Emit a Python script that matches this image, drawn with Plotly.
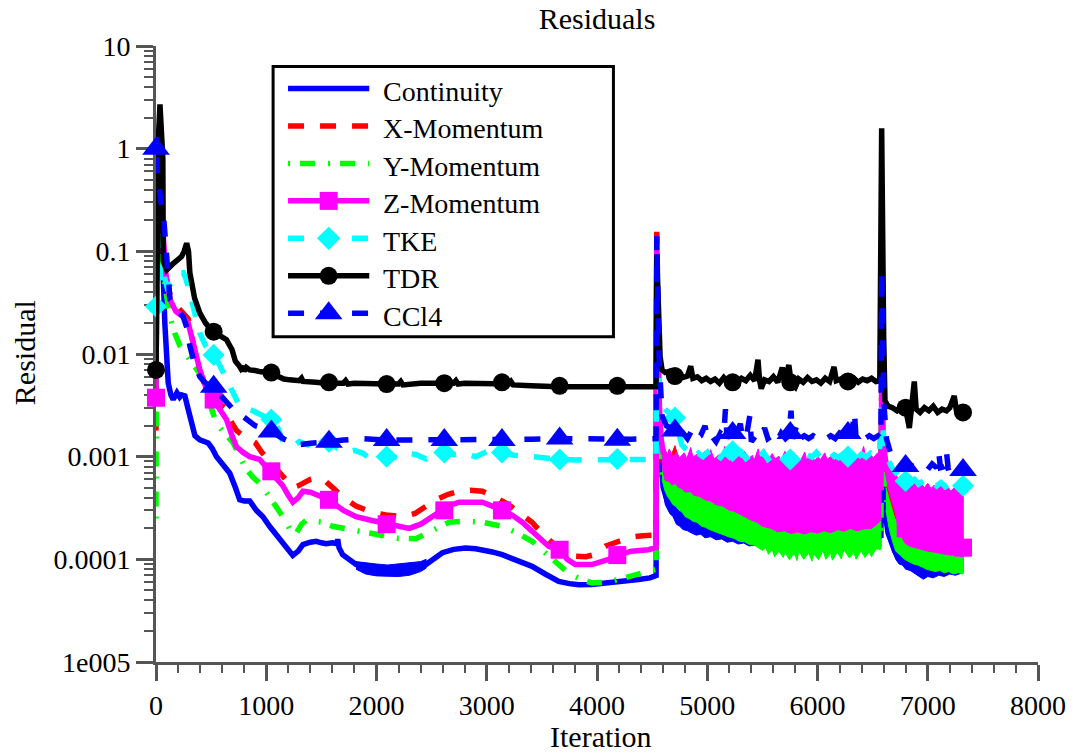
import plotly.graph_objects as go

FONT = "Liberation Serif"
AXIS_GREY = "#555555"

BLUE = "#0000FF"
RED = "#FF0000"
GREEN = "#00FF00"
MAGENTA = "#FF00FF"
CYAN = "#00FFFF"
BLACK = "#000000"

# iterations at which symbols are plotted
MARK_ITERS = [0, 523, 1046, 1569, 2092, 2615, 3138, 3661, 4184, 4707, 5230, 5753, 6276, 6799, 7320]

Y_TICK_VALS = [1e-5, 1e-4, 1e-3, 1e-2, 1e-1, 1, 10]
Y_TICK_TEXT = ["1e005", "0.0001", "0.001", "0.01", "0.1", "1", "10"]
X_TICK_VALS = [0, 1000, 2000, 3000, 4000, 5000, 6000, 7000, 8000]

# ---------------- Continuity ----------------
continuity = [
    (0, 0.4), (10, 0.9), (25, 0.5), (45, 0.2), (65, 0.06), (80, 0.02), (95, 0.008),
    (111, 0.0052), (135, 0.004), (156, 0.0036), (190, 0.0042), (215, 0.0038), (232, 0.004),
    (262, 0.0039), (285, 0.0031), (307, 0.0025), (330, 0.002), (353, 0.0016), (397, 0.00146),
    (430, 0.0014), (473, 0.00136), (510, 0.0012), (549, 0.001), (610, 0.00083), (669, 0.00069),
    (720, 0.0005), (759, 0.00038), (800, 0.00037), (850, 0.00037), (910, 0.0003), (970, 0.00026),
    (1030, 0.00021), (1091, 0.000174), (1140, 0.000152), (1182, 0.000134), (1241, 0.000109),
    (1290, 0.00012), (1332, 0.000139), (1400, 0.000147), (1453, 0.00015), (1500, 0.000145),
    (1543, 0.000142), (1600, 0.000145), (1640, 0.000142), (1648, 0.000157), (1660, 0.00013),
    (1693, 0.000111), (1750, 0.0001), (1815, 0.000089), (1900, 0.000084), (1995, 0.00008),
    (2100, 0.000078), (2267, 0.0000765), (2360, 0.00008), (2448, 0.000089), (2520, 0.0001),
    (2598, 0.000116), (2700, 0.000125), (2809, 0.000129), (2900, 0.000127), (2959, 0.000124),
    (3050, 0.000118), (3140, 0.000111), (3280, 0.000098), (3411, 0.0000855), (3530, 0.000072),
    (3653, 0.000061), (3750, 0.000058), (3834, 0.0000567), (3950, 0.000057), (4105, 0.0000589),
    (4250, 0.000061), (4376, 0.0000635), (4480, 0.000066), (4536, 0.0000695),
    (4542, 0.08), (4550, 0.015), (4562, 0.003), (4580, 0.0009), (4600, 0.0005), (4640, 0.00036),
    (4700, 0.00028), (4800, 0.00022), (5000, 0.00019), (5500, 0.00016), (6000, 0.00015),
    (6500, 0.00016), (6575, 0.00017),
    (6583, 0.0025), (6592, 0.0006), (6610, 0.0003), (6640, 0.00018), (6700, 0.00012),
    (6800, 0.00009), (7000, 0.000085), (7320, 0.000085),
]
continuity_noise_1_hi = [(1815, 0.000095), (1900, 0.000092), (2000, 0.00009), (2100, 0.000088),
                         (2200, 0.00009), (2300, 0.000092), (2400, 0.000095), (2450, 0.0001)]
continuity_noise_1_lo = [(1815, 0.00008), (1900, 0.000072), (2000, 0.000069), (2100, 0.000068),
                         (2200, 0.000068), (2300, 0.00007), (2400, 0.000076), (2450, 0.000082)]
continuity_noise_2_hi = [(4600, 0.0006), (4700, 0.00045), (4800, 0.00038), (5000, 0.00032),
                         (5300, 0.00028), (5600, 0.00025), (6000, 0.00024), (6300, 0.00024),
                         (6575, 0.00026)]
continuity_noise_2_lo = [
    (4600, 0.00045), (4620, 0.00034), (4640, 0.00031), (4660, 0.00028), (4690, 0.00026),
    (4720, 0.00022), (4750, 0.00021), (4780, 0.000195), (4820, 0.00019), (4860, 0.00018),
    (4900, 0.000172), (4940, 0.000176), (4980, 0.000162), (5030, 0.000166), (5080, 0.000155),
    (5130, 0.000158), (5180, 0.000147), (5230, 0.00015), (5280, 0.000141), (5330, 0.000144),
    (5380, 0.000135), (5440, 0.000138), (5500, 0.000129), (5560, 0.000132), (5620, 0.000126),
    (5700, 0.000128), (5800, 0.000121), (5900, 0.000124), (6000, 0.000118), (6100, 0.000122),
    (6200, 0.00012), (6300, 0.000125), (6400, 0.000121), (6500, 0.000127), (6575, 0.00013),
]
continuity_noise_3_hi = [(6620, 0.0003), (6700, 0.00017), (6800, 0.00014), (7000, 0.00013),
                         (7320, 0.00012)]
continuity_noise_3_lo = [
    (6620, 0.00025), (6650, 0.00017), (6680, 0.00012), (6710, 0.0001), (6740, 0.00009),
    (6770, 0.000088), (6800, 0.00008), (6840, 0.000078), (6880, 0.000072), (6920, 0.000068),
    (6960, 0.000064), (7000, 0.000068), (7050, 0.000066), (7100, 0.00007), (7150, 0.000068),
    (7200, 0.000072), (7250, 0.00007), (7320, 0.000074),
]

# ---------------- X-Momentum ----------------
x_momentum = [
    (0, 0.0018), (8, 0.35), (20, 0.25), (40, 0.15), (66, 0.1), (100, 0.05), (127, 0.038),
    (180, 0.03), (247, 0.025), (292, 0.022), (330, 0.014), (360, 0.009), (398, 0.0066),
    (450, 0.0048), (504, 0.0038), (560, 0.0034), (639, 0.0029), (680, 0.0022), (730, 0.0018),
    (790, 0.0016), (850, 0.00145), (900, 0.00137), (960, 0.0011), (1031, 0.0009),
    (1090, 0.00075), (1151, 0.00062), (1200, 0.00055), (1241, 0.0005), (1290, 0.00052),
    (1332, 0.00055), (1400, 0.0006), (1453, 0.00062), (1500, 0.0006), (1543, 0.00057),
    (1620, 0.00048), (1700, 0.0004), (1814, 0.00033), (1950, 0.00029), (2086, 0.00027),
    (2236, 0.00026), (2350, 0.00028), (2450, 0.00033), (2538, 0.00038), (2650, 0.00043),
    (2749, 0.00046), (2850, 0.00047), (2960, 0.00046), (3080, 0.0004), (3200, 0.00034),
    (3300, 0.00028), (3411, 0.00023), (3500, 0.00018), (3562, 0.000155), (3680, 0.00012),
    (3800, 0.000107), (3900, 0.000106), (3960, 0.00011), (4075, 0.000134), (4200, 0.00015),
    (4313, 0.000165), (4420, 0.00017), (4536, 0.000172),
    (4542, 0.155), (4550, 0.02), (4562, 0.004), (4580, 0.0014), (4600, 0.0009),
    (4700, 0.0008), (5000, 0.0006), (5500, 0.0005), (6000, 0.0004), (6575, 0.0005),
    (6583, 0.006), (6595, 0.0012), (6620, 0.0006), (6700, 0.0004), (7000, 0.0003), (7320, 0.0003),
]
x_momentum_noise_1_hi = [(4600, 0.0009), (4660, 0.00095), (4707, 0.00128), (4740, 0.00095),
                         (5000, 0.00092), (5300, 0.00095), (5480, 0.00094), (5506, 0.00115),
                         (5530, 0.00094), (6000, 0.0009), (6300, 0.00092), (6575, 0.00092)]
x_momentum_noise_1_lo = [(4600, 0.0006), (5000, 0.0004), (5500, 0.00025), (6000, 0.00022),
                         (6575, 0.00024)]
x_momentum_noise_2_hi = [(6620, 0.0007), (6700, 0.0006), (7000, 0.00045), (7320, 0.00042)]
x_momentum_noise_2_lo = [(6620, 0.0005), (6700, 0.00025), (6800, 0.00016), (7320, 0.00014)]

# ---------------- Y-Momentum ----------------
y_momentum = [
    (0, 0.00025), (6, 0.2), (20, 0.12), (45, 0.08), (66, 0.06), (100, 0.035), (127, 0.023),
    (170, 0.016), (217, 0.012), (300, 0.009), (398, 0.0066), (459, 0.0052), (500, 0.003),
    (549, 0.0021), (620, 0.0017), (699, 0.00137), (760, 0.001), (820, 0.00075), (880, 0.00063),
    (940, 0.00055), (1000, 0.00045), (1080, 0.00034), (1151, 0.00026), (1210, 0.0002),
    (1272, 0.000179), (1320, 0.00022), (1362, 0.00024), (1440, 0.000235), (1513, 0.00023),
    (1600, 0.00021), (1754, 0.000195), (1900, 0.00018), (2055, 0.000167), (2200, 0.00016),
    (2357, 0.000159), (2500, 0.00019), (2659, 0.00023), (2800, 0.000235), (2960, 0.00023),
    (3140, 0.00021), (3280, 0.00018), (3411, 0.00015), (3562, 0.000107), (3650, 0.00009),
    (3744, 0.000073), (3850, 0.000064), (3954, 0.000059), (4105, 0.00006), (4313, 0.000068),
    (4495, 0.0000765), (4536, 0.00008),
    (4542, 0.05), (4550, 0.006), (4565, 0.0015), (4590, 0.0007), (4700, 0.0004),
    (5000, 0.00028), (5500, 0.0002), (6000, 0.00017), (6575, 0.0002),
    (6583, 0.004), (6595, 0.0008), (6620, 0.0004), (6700, 0.0002), (6900, 0.00013), (7320, 0.00011),
]
y_momentum_noise_1_hi = [(4590, 0.0008), (4700, 0.0007), (4800, 0.00062), (5000, 0.0005),
                         (5200, 0.0004), (5400, 0.00032), (5600, 0.00027), (5800, 0.00025),
                         (6000, 0.00025), (6300, 0.00026), (6575, 0.0003)]
y_momentum_noise_1_lo = [
    (4590, 0.0006), (4615, 0.00047), (4640, 0.00041), (4662, 0.00038), (4690, 0.00034),
    (4712, 0.00033), (4745, 0.0003), (4770, 0.00029), (4800, 0.00026), (4835, 0.00025),
    (4870, 0.000235), (4905, 0.00023), (4950, 0.00021), (4985, 0.000205), (5020, 0.000195),
    (5070, 0.000185), (5110, 0.00018), (5150, 0.000172), (5200, 0.000165), (5245, 0.00016),
    (5290, 0.00015), (5340, 0.000148), (5380, 0.00014), (5430, 0.000137), (5470, 0.000128),
    (5505, 0.000122), (5530, 0.000131), (5555, 0.000112), (5590, 0.000125), (5610, 0.000106),
    (5650, 0.00012), (5690, 0.000104), (5705, 0.000118), (5745, 0.000099), (5790, 0.000114),
    (5815, 0.000097), (5830, 0.000121), (5875, 0.0001), (5920, 0.000116), (5950, 0.000096),
    (5965, 0.000113), (6010, 0.000099), (6050, 0.000122), (6075, 0.0001), (6120, 0.000115),
    (6135, 0.000098), (6180, 0.000118), (6215, 0.000101), (6240, 0.000124), (6290, 0.000103),
    (6330, 0.000117), (6350, 0.0001), (6395, 0.000121), (6430, 0.000104), (6470, 0.000119),
    (6490, 0.000106), (6530, 0.000126), (6575, 0.000125),
]
y_momentum_noise_2_hi = [(6620, 0.0005), (6700, 0.00025), (6800, 0.0002), (7000, 0.00018),
                         (7320, 0.00017)]
y_momentum_noise_2_lo = [
    (6620, 0.0003), (6650, 0.0002), (6680, 0.00015), (6710, 0.00012), (6750, 0.00011),
    (6790, 0.0001), (6830, 0.000095), (6870, 0.00009), (6910, 0.000088), (6950, 0.000084),
    (6990, 0.00008), (7030, 0.000078), (7070, 0.000076), (7110, 0.000078), (7150, 0.000074),
    (7190, 0.000076), (7230, 0.000072), (7280, 0.000074), (7320, 0.000072),
]

# ---------------- Z-Momentum ----------------
z_momentum = [
    (0, 0.00375), (5, 0.25), (15, 0.2), (35, 0.15), (66, 0.14), (90, 0.06), (127, 0.034),
    (180, 0.026), (247, 0.023), (292, 0.02), (340, 0.012), (398, 0.007), (450, 0.0048),
    (504, 0.0036), (560, 0.0031), (639, 0.0023), (690, 0.0016), (730, 0.00125), (790, 0.0011),
    (850, 0.001), (940, 0.00094), (1000, 0.0008), (1046, 0.00072), (1100, 0.0006),
    (1151, 0.00052), (1200, 0.00042), (1241, 0.00036), (1290, 0.0004), (1332, 0.00046),
    (1400, 0.00045), (1500, 0.0004), (1569, 0.00038), (1700, 0.0003), (1814, 0.00026),
    (1950, 0.00024), (2092, 0.00022), (2200, 0.00021), (2297, 0.0002), (2400, 0.00022),
    (2538, 0.00028), (2650, 0.00033), (2749, 0.00036), (2850, 0.00036), (2960, 0.00036),
    (3050, 0.00033), (3138, 0.0003), (3230, 0.00027), (3321, 0.00023), (3450, 0.00017),
    (3562, 0.000134), (3661, 0.000124), (3730, 0.0001), (3804, 0.000089), (3954, 0.000089),
    (4105, 0.0001), (4184, 0.00011), (4313, 0.00012), (4467, 0.000124), (4536, 0.00013),
    (4542, 0.14), (4550, 0.02), (4562, 0.004), (4578, 0.0016), (4600, 0.0011),
    (4707, 0.0008), (5230, 0.0006), (5753, 0.0005), (6276, 0.0005), (6575, 0.0005),
    (6583, 0.0056), (6595, 0.0015), (6620, 0.0008), (6700, 0.0004), (6799, 0.00025),
    (7000, 0.0002), (7320, 0.00013),
]
z_momentum_noise_1_hi = [
    (4590, 0.0013), (4612, 0.00121), (4640, 0.00104), (4655, 0.00119), (4690, 0.00099),
    (4722, 0.00111), (4748, 0.00097), (4790, 0.00109), (4815, 0.00096), (4850, 0.00123),
    (4870, 0.00099), (4915, 0.00107), (4935, 0.00094), (4975, 0.00113), (5005, 0.00098),
    (5030, 0.00117), (5062, 0.00095), (5110, 0.00105), (5135, 0.00093), (5158, 0.00126),
    (5175, 0.00097), (5215, 0.00109), (5255, 0.00096), (5290, 0.00104), (5318, 0.00094),
    (5335, 0.00113), (5380, 0.00097), (5410, 0.00103), (5425, 0.00092), (5462, 0.00119),
    (5484, 0.00095), (5530, 0.00104), (5545, 0.00092), (5590, 0.00107), (5615, 0.00095),
    (5650, 0.00101), (5668, 0.00092), (5705, 0.00113), (5725, 0.00094), (5770, 0.00104),
    (5795, 0.00091), (5815, 0.001), (5850, 0.00093), (5884, 0.00111), (5900, 0.00094),
    (5945, 0.00102), (5975, 0.00092), (6005, 0.001), (6025, 0.00093), (6066, 0.00109),
    (6085, 0.00094), (6125, 0.00101), (6155, 0.00092), (6184, 0.00105), (6205, 0.00094),
    (6245, 0.001), (6275, 0.00093), (6305, 0.00107), (6320, 0.00095), (6365, 0.00102),
    (6385, 0.00094), (6418, 0.00126), (6440, 0.00096), (6485, 0.00104), (6505, 0.00097),
    (6545, 0.00109), (6575, 0.001),
]
z_momentum_noise_1_lo = [
    (4590, 0.0008), (4617, 0.00059), (4650, 0.00058), (4680, 0.00053), (4710, 0.00055),
    (4738, 0.0005), (4770, 0.00049), (4800, 0.00045), (4840, 0.00046), (4880, 0.00042),
    (4930, 0.00041), (4979, 0.00038), (5030, 0.00037), (5080, 0.00034), (5140, 0.00033),
    (5200, 0.0003), (5240, 0.000295), (5280, 0.00028), (5340, 0.00026), (5400, 0.00024),
    (5450, 0.00023), (5500, 0.00021), (5540, 0.000205), (5581, 0.0002), (5640, 0.000185),
    (5700, 0.00019), (5760, 0.000178), (5820, 0.000185), (5883, 0.000176), (5940, 0.000186),
    (6000, 0.00018), (6060, 0.00019), (6120, 0.000182), (6184, 0.000195), (6240, 0.000188),
    (6300, 0.0002), (6360, 0.00019), (6420, 0.000198), (6486, 0.0002), (6540, 0.00022),
    (6575, 0.00024),
]
z_momentum_noise_2_hi = [
    (6600, 0.003), (6615, 0.0012), (6640, 0.0009), (6670, 0.00075), (6700, 0.0007),
    (6730, 0.00062), (6760, 0.00058), (6790, 0.00054), (6820, 0.00056), (6850, 0.0005),
    (6880, 0.00055), (6910, 0.00049), (6940, 0.00054), (6970, 0.0005), (7000, 0.00055),
    (7030, 0.00049), (7060, 0.00053), (7090, 0.00048), (7120, 0.00052), (7150, 0.00047),
    (7180, 0.00051), (7210, 0.00046), (7240, 0.0005), (7270, 0.00046), (7300, 0.00048),
    (7320, 0.00045),
]
z_momentum_noise_2_lo = [
    (6600, 0.0012), (6615, 0.0007), (6640, 0.0005), (6670, 0.00038), (6700, 0.0003),
    (6730, 0.00021), (6760, 0.00017), (6790, 0.000145), (6830, 0.000135), (6870, 0.00013),
    (6910, 0.000128), (6950, 0.000124), (7000, 0.00012), (7050, 0.000118), (7100, 0.000115),
    (7150, 0.000113), (7200, 0.00011), (7250, 0.00011), (7320, 0.000106),
]
z_momentum_marks = [0.00375, 0.0036, 0.00072, 0.00038, 0.00022, 0.0003, 0.0003, 0.000124,
                    0.00011, 0.0007, 0.0005, 0.0004, 0.0004, 0.0002, 0.00013]

# ---------------- TKE ----------------
tke = [
    (0, 0.029), (5, 0.4), (15, 0.2), (30, 0.08), (50, 0.05), (66, 0.062), (100, 0.045),
    (150, 0.05), (200, 0.062), (247, 0.062), (270, 0.055), (307, 0.039), (350, 0.025),
    (398, 0.016), (450, 0.012), (504, 0.0098), (560, 0.0085), (639, 0.0056), (700, 0.004),
    (759, 0.0031), (850, 0.0029), (900, 0.0027), (970, 0.0025), (1046, 0.0023), (1091, 0.0021),
    (1151, 0.0014), (1200, 0.0013), (1241, 0.00126), (1300, 0.0014), (1380, 0.0013),
    (1450, 0.0015), (1513, 0.0014), (1569, 0.0014), (1650, 0.0012), (1720, 0.0011),
    (1800, 0.00115), (1874, 0.00108), (1950, 0.00095), (2000, 0.00105), (2092, 0.001),
    (2200, 0.00098), (2280, 0.00108), (2357, 0.00105), (2450, 0.00095), (2530, 0.0011),
    (2615, 0.00112), (2700, 0.00105), (2809, 0.00108), (2900, 0.001), (3000, 0.00112),
    (3138, 0.0011), (3250, 0.00103), (3411, 0.001), (3500, 0.00097), (3661, 0.00094),
    (3800, 0.00093), (4000, 0.00094), (4184, 0.00095), (4350, 0.00094), (4536, 0.00094),
    (4542, 0.015), (4552, 0.009), (4565, 0.005), (4590, 0.0032), (4630, 0.0028), (4670, 0.0026),
    (4707, 0.0024), (4740, 0.0017), (4770, 0.0013), (4800, 0.0012), (4840, 0.0011),
    (4880, 0.00098), (4920, 0.00108), (4960, 0.001), (5000, 0.0011), (5040, 0.00092),
    (5080, 0.00105), (5120, 0.00098), (5160, 0.0011), (5200, 0.001), (5230, 0.00113),
    (5270, 0.00098), (5310, 0.0011), (5350, 0.00096), (5390, 0.00104), (5430, 0.0011),
    (5470, 0.00098), (5510, 0.0011), (5550, 0.00094), (5590, 0.00102), (5630, 0.00098),
    (5670, 0.00108), (5710, 0.00097), (5753, 0.00094), (5790, 0.00102), (5830, 0.00108),
    (5870, 0.00096), (5910, 0.00104), (5950, 0.00099), (5990, 0.0011), (6030, 0.00097),
    (6070, 0.00105), (6110, 0.00096), (6150, 0.00104), (6190, 0.00098), (6230, 0.00106),
    (6276, 0.001), (6320, 0.00104), (6360, 0.00097), (6400, 0.00106), (6440, 0.00099),
    (6480, 0.00108), (6520, 0.001), (6560, 0.00104),
    (6583, 0.003), (6600, 0.0015), (6630, 0.001), (6670, 0.0008), (6710, 0.0007),
    (6750, 0.00062), (6799, 0.00058), (6840, 0.00056), (6880, 0.0006), (6920, 0.00054),
    (6960, 0.00058), (7000, 0.00053), (7040, 0.00057), (7080, 0.00052), (7120, 0.00056),
    (7160, 0.00051), (7200, 0.00055), (7240, 0.00051), (7280, 0.00054), (7320, 0.00052),
]
tke_marks = [0.029, 0.0098, 0.0023, 0.0014, 0.001, 0.0011, 0.0011, 0.00094, 0.00095,
             0.0024, 0.00113, 0.00094, 0.001, 0.00058, 0.00052]

# ---------------- TDR ----------------
tdr = [
    (0, 0.007), (10, 0.35), (25, 1.5), (36, 2.7), (50, 0.9), (62, 0.8), (66, 0.08),
    (97, 0.066), (150, 0.075), (200, 0.085), (232, 0.089), (255, 0.1), (278, 0.12),
    (295, 0.1), (307, 0.062), (350, 0.035), (398, 0.025), (450, 0.02), (504, 0.017),
    (560, 0.0155), (639, 0.0138), (690, 0.011), (720, 0.0085), (750, 0.0078), (770, 0.0072),
    (787, 0.0076), (800, 0.0068), (820, 0.0074), (850, 0.007), (900, 0.0069), (950, 0.0067),
    (1031, 0.0066), (1100, 0.006), (1160, 0.0057), (1212, 0.0056), (1300, 0.0055),
    (1320, 0.0058), (1335, 0.0054), (1450, 0.0053), (1543, 0.0052), (1700, 0.0052),
    (1720, 0.0055), (1740, 0.0051), (1800, 0.0052), (2086, 0.0051), (2200, 0.0051),
    (2220, 0.0054), (2240, 0.005), (2400, 0.0052), (2595, 0.0052), (2700, 0.0052),
    (2720, 0.0055), (2740, 0.0051), (2800, 0.0052), (3120, 0.0052), (3200, 0.0051),
    (3220, 0.0054), (3240, 0.005), (3400, 0.0049), (3650, 0.0048), (4170, 0.0048),
    (4536, 0.0048),
    (4542, 0.093), (4548, 0.057), (4560, 0.014), (4572, 0.0095), (4590, 0.007), (4620, 0.0066),
    (4660, 0.0068), (4700, 0.0062), (4740, 0.0064), (4780, 0.0059), (4820, 0.0061),
    (4850, 0.0076), (4870, 0.0058), (4910, 0.006), (4950, 0.0055), (4990, 0.0058),
    (5030, 0.0054), (5070, 0.0057), (5110, 0.0052), (5150, 0.0059), (5190, 0.0053),
    (5230, 0.0056), (5270, 0.0054), (5310, 0.0058), (5350, 0.0055), (5390, 0.0062),
    (5430, 0.0055), (5460, 0.0088), (5475, 0.0055), (5490, 0.0046), (5520, 0.0056),
    (5560, 0.0054), (5600, 0.006), (5640, 0.0053), (5680, 0.0074), (5700, 0.0054),
    (5740, 0.0078), (5760, 0.0054), (5800, 0.0048), (5830, 0.0057), (5870, 0.0053),
    (5910, 0.0059), (5950, 0.0054), (5990, 0.0056), (6030, 0.0052), (6070, 0.0058),
    (6110, 0.0054), (6150, 0.0075), (6170, 0.0055), (6210, 0.0057), (6250, 0.0053),
    (6290, 0.0056), (6330, 0.0058), (6370, 0.0053), (6410, 0.0057), (6450, 0.0055),
    (6490, 0.0058), (6530, 0.0054), (6565, 0.0055),
    (6582, 1.58), (6590, 0.061), (6600, 0.015), (6612, 0.0035), (6640, 0.0031), (6680, 0.003),
    (6720, 0.0028), (6760, 0.0031), (6800, 0.0029), (6833, 0.0019), (6850, 0.003),
    (6878, 0.0054), (6895, 0.0029), (6930, 0.0027), (6970, 0.003), (7010, 0.0028),
    (7050, 0.0031), (7090, 0.0027), (7130, 0.0029), (7170, 0.0028), (7200, 0.003),
    (7240, 0.0039), (7260, 0.0028), (7290, 0.0029), (7320, 0.0027),
]
tdr_marks = [0.007, 0.0165, 0.0066, 0.0053, 0.0051, 0.0052, 0.0053, 0.0049, 0.0049,
             0.0061, 0.0053, 0.0053, 0.0054, 0.003, 0.0027]

# ---------------- CCl4 ----------------
ccl4 = [
    (0, 1.0), (5, 1.3), (12, 0.6), (25, 0.4), (45, 0.3), (66, 0.24), (90, 0.1), (127, 0.034),
    (180, 0.028), (247, 0.023), (280, 0.018), (307, 0.012), (350, 0.008), (398, 0.006),
    (450, 0.0052), (523, 0.0048), (600, 0.0038), (699, 0.0029), (760, 0.0026), (820, 0.0023),
    (900, 0.002), (970, 0.0019), (1046, 0.00176), (1150, 0.0015), (1272, 0.0013),
    (1400, 0.00135), (1513, 0.00136), (1569, 0.0014), (1700, 0.00145), (1874, 0.0015),
    (2092, 0.00145), (2300, 0.00145), (2615, 0.00145), (2900, 0.00145), (3138, 0.00145),
    (3400, 0.00148), (3661, 0.0015), (3900, 0.00148), (4105, 0.00146), (4300, 0.00148),
    (4536, 0.0015),
    (4542, 0.14), (4550, 0.05), (4558, 0.012), (4570, 0.005), (4590, 0.0025), (4630, 0.002),
    (4670, 0.0019), (4707, 0.0018), (4740, 0.0016), (4780, 0.0017), (4820, 0.0015),
    (4860, 0.0018), (4900, 0.0015), (4940, 0.0016), (4980, 0.002), (5000, 0.0015),
    (5040, 0.0016), (5080, 0.0014), (5120, 0.0017), (5150, 0.0016), (5165, 0.0029),
    (5180, 0.0015), (5200, 0.0017), (5230, 0.0018), (5260, 0.0016), (5300, 0.0021),
    (5320, 0.0015), (5360, 0.0017), (5386, 0.0025), (5400, 0.0014), (5440, 0.0016),
    (5480, 0.0015), (5520, 0.0019), (5550, 0.0015), (5590, 0.0016), (5630, 0.0014),
    (5670, 0.0017), (5710, 0.0015), (5740, 0.0016), (5760, 0.0028), (5775, 0.0015),
    (5810, 0.002), (5840, 0.0015), (5880, 0.0016), (5920, 0.0015), (5960, 0.0016),
    (6000, 0.0015), (6040, 0.0016), (6080, 0.0015), (6120, 0.0016), (6160, 0.0015),
    (6200, 0.0017), (6240, 0.0016), (6276, 0.0018), (6310, 0.0016), (6335, 0.0027),
    (6350, 0.0015), (6390, 0.0016), (6430, 0.0015), (6470, 0.0016), (6510, 0.0015),
    (6550, 0.0016), (6575, 0.0015),
    (6583, 0.065), (6592, 0.012), (6605, 0.003), (6625, 0.0015), (6660, 0.0011),
    (6700, 0.00095), (6740, 0.0009), (6770, 0.0008), (6799, 0.0008), (6830, 0.00085),
    (6870, 0.0008), (6910, 0.00082), (6950, 0.0008), (7000, 0.00075), (7040, 0.00085),
    (7080, 0.00078), (7100, 0.0011), (7115, 0.00078), (7150, 0.0008), (7170, 0.0011),
    (7185, 0.00078), (7220, 0.0008), (7260, 0.00076), (7320, 0.00075),
]
ccl4_marks = [1.0, 0.0048, 0.00176, 0.0014, 0.00145, 0.00145, 0.00145, 0.0015, 0.00146,
              0.0018, 0.0017, 0.0017, 0.0017, 0.00081, 0.00074]

DASH_X = "16px,16px"
DASH_Y = "2px,10px,15px,13px"
DASH_TKE = "16px,16px"
DASH_CCL4 = "16px,16px"

# legend entries: name, colour, dash, symbol, symbol size
LEGEND_ENTRIES = [
    ("Continuity", BLUE, "solid", None, 0),
    ("X-Momentum", RED, DASH_X, None, 0),
    ("Y-Momentum", GREEN, DASH_Y, None, 0),
    ("Z-Momentum", MAGENTA, "solid", "square", 18),
    ("TKE", CYAN, DASH_TKE, "diamond", 18),
    ("TDR", BLACK, "solid", "circle", 18),
    ("CCl4", BLUE, DASH_CCL4, "triangle-up", 24),
]
# legend frame geometry, in pixels of the page (origin top-left)
LEGEND_BOX = dict(x0=273.5, x1=615, y0=66.5, y1=337)
LEGEND_FIRST_ROW = 88.5
LEGEND_ROW_STEP = 37.5
LEGEND_SAMPLE_X = (288.5, 370)
LEGEND_TEXT_X = 381.5


def unzip(pairs):
    return [p[0] for p in pairs], [p[1] for p in pairs]


def line_trace(pairs, color, dash="solid", width=5.5):
    xs, ys = unzip(pairs)
    return go.Scatter(x=xs, y=ys, mode="lines", showlegend=False, hoverinfo="skip",
                      line=dict(color=color, width=width, dash=dash))


def noise_trace(upper, lower, color):
    ux, uy = unzip(upper)
    lx, ly = unzip(lower)
    return go.Scatter(x=ux + lx[::-1], y=uy + ly[::-1], mode="lines", fill="toself",
                      fillcolor=color, line=dict(color=color, width=1),
                      showlegend=False, hoverinfo="skip")


def symbol_trace(values, color, symbol, size):
    return go.Scatter(x=MARK_ITERS, y=values, mode="markers", showlegend=False,
                      hoverinfo="skip", cliponaxis=False,
                      marker=dict(color=color, symbol=symbol, size=size, line=dict(width=0)))


fig = go.Figure()

# Continuity
fig.add_trace(noise_trace(continuity_noise_1_hi, continuity_noise_1_lo, BLUE))
fig.add_trace(noise_trace(continuity_noise_2_hi, continuity_noise_2_lo, BLUE))
fig.add_trace(noise_trace(continuity_noise_3_hi, continuity_noise_3_lo, BLUE))
fig.add_trace(line_trace(continuity, BLUE))

# X-Momentum
fig.add_trace(noise_trace(x_momentum_noise_1_hi, x_momentum_noise_1_lo, RED))
fig.add_trace(noise_trace(x_momentum_noise_2_hi, x_momentum_noise_2_lo, RED))
fig.add_trace(line_trace(x_momentum, RED, DASH_X))

# Y-Momentum
fig.add_trace(noise_trace(y_momentum_noise_1_hi, y_momentum_noise_1_lo, GREEN))
fig.add_trace(noise_trace(y_momentum_noise_2_hi, y_momentum_noise_2_lo, GREEN))
fig.add_trace(line_trace(y_momentum, GREEN, DASH_Y))

# Z-Momentum
fig.add_trace(noise_trace(z_momentum_noise_1_hi, z_momentum_noise_1_lo, MAGENTA))
fig.add_trace(noise_trace(z_momentum_noise_2_hi, z_momentum_noise_2_lo, MAGENTA))
fig.add_trace(line_trace(z_momentum, MAGENTA))
fig.add_trace(symbol_trace(z_momentum_marks, MAGENTA, "square", 18))

# TKE
fig.add_trace(line_trace(tke, CYAN, DASH_TKE))
fig.add_trace(symbol_trace(tke_marks, CYAN, "diamond", 17))

# TDR
fig.add_trace(line_trace(tdr, BLACK))
fig.add_trace(symbol_trace(tdr_marks, BLACK, "circle", 18))

# CCl4
fig.add_trace(line_trace(ccl4, BLUE, DASH_CCL4))
fig.add_trace(symbol_trace(ccl4_marks, BLUE, "triangle-up", 24))

# legend, drawn on an overlay axis measured in page pixels
annotations = []
for i, (name, color, dash, symbol, size) in enumerate(LEGEND_ENTRIES):
    row_y = LEGEND_FIRST_ROW + i * LEGEND_ROW_STEP
    fig.add_trace(go.Scatter(
        x=list(LEGEND_SAMPLE_X), y=[row_y, row_y], xaxis="x2", yaxis="y2",
        mode="lines", showlegend=False, hoverinfo="skip",
        line=dict(color=color, width=5.5, dash=dash),
    ))
    if symbol:
        fig.add_trace(go.Scatter(
            x=[(LEGEND_SAMPLE_X[0] + LEGEND_SAMPLE_X[1]) / 2], y=[row_y], xaxis="x2", yaxis="y2",
            mode="markers", showlegend=False, hoverinfo="skip",
            marker=dict(color=color, symbol=symbol, size=size, line=dict(width=0)),
        ))
    annotations.append(dict(
        text=name, x=LEGEND_TEXT_X, y=row_y + 3, xref="x2", yref="y2",
        xanchor="left", yanchor="middle", showarrow=False,
        font=dict(family=FONT, size=28, color="black"),
    ))

annotations += [
    dict(text="Iteration", x=(603 - 156) / 885, y=(662.5 - 737) / 616.5, xref="paper",
         yref="paper", xanchor="center", yanchor="middle", showarrow=False,
         font=dict(family=FONT, size=30, color="black")),
    dict(text="Residual", x=(24 - 156) / 885, y=(662.5 - 353) / 616.5, xref="paper",
         yref="paper", xanchor="center", yanchor="middle", textangle=-90, showarrow=False,
         font=dict(family=FONT, size=30, color="black")),
]

minor_y = [m * 10.0 ** k for k in range(-5, 1) for m in range(2, 10)]

fig.update_layout(
    width=1078, height=755,
    margin=dict(l=156, r=37, t=46, b=93),
    paper_bgcolor="white", plot_bgcolor="white",
    font=dict(family=FONT, size=28, color="black"),
    title=dict(text="Residuals", x=0.5, xref="paper", xanchor="center",
               y=1 - 18 / 755, yanchor="middle", font=dict(family=FONT, size=30, color="black")),
    showlegend=False,
    annotations=annotations,
    shapes=[dict(type="rect", xref="x2", yref="y2", layer="below",
                 fillcolor="white", line=dict(color="black", width=3), **LEGEND_BOX)],
    xaxis=dict(
        range=[0, 8000], tickvals=X_TICK_VALS, ticktext=[str(v) for v in X_TICK_VALS],
        showgrid=False, zeroline=False, showline=True, linecolor=AXIS_GREY, linewidth=3,
        ticks="outside", ticklen=16, tickwidth=2.5, tickcolor=AXIS_GREY,
        tickfont=dict(family=FONT, size=28, color="black"),
        minor=dict(dtick=200, ticks="outside", ticklen=8, tickwidth=2, tickcolor=AXIS_GREY),
        layer="below traces",
    ),
    yaxis=dict(
        type="log", range=[-5, 1], tickvals=Y_TICK_VALS, ticktext=Y_TICK_TEXT,
        showgrid=False, zeroline=False, showline=True, linecolor=AXIS_GREY, linewidth=3,
        ticks="outside", ticklen=17, tickwidth=2.5, tickcolor=AXIS_GREY,
        tickfont=dict(family=FONT, size=28, color="black"),
        minor=dict(tickmode="array", tickvals=minor_y, ticks="outside", ticklen=9, tickwidth=2,
                   tickcolor=AXIS_GREY),
        layer="below traces",
    ),
    xaxis2=dict(overlaying="x", anchor="y2", range=[156, 1041], visible=False, fixedrange=True),
    yaxis2=dict(overlaying="y", anchor="x2", range=[662.5, 46], visible=False, fixedrange=True),
)

fig.write_html("out.html")
